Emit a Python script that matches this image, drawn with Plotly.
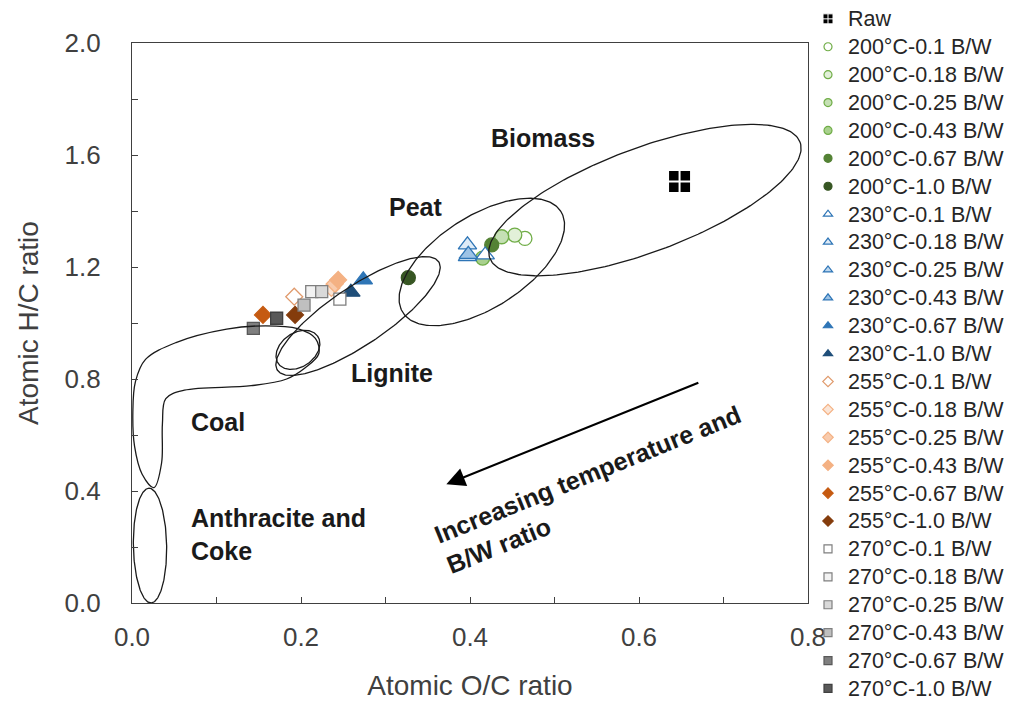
import numpy as np
import plotly.graph_objects as go

# ---------------- data ----------------
bw_levels = ["0.1", "0.18", "0.25", "0.43", "0.67", "1.0"]

raw_oc = [0.648]
raw_hc = [1.505]

oc_200 = [0.465, 0.453, 0.4375, 0.415, 0.4257, 0.327]
hc_200 = [1.302, 1.314, 1.308, 1.232, 1.279, 1.162]
oc_230 = [0.418, 0.397, 0.397, 0.398, 0.2737, 0.259]
hc_230 = [1.243, 1.279, 1.237, 1.245, 1.154, 1.110]
oc_255 = [0.192, 0.236, 0.240, 0.244, 0.155, 0.193]
hc_255 = [1.094, 1.125, 1.140, 1.154, 1.029, 1.029]
oc_270 = [0.246, 0.2127, 0.2245, 0.2036, 0.1436, 0.1712]
hc_270 = [1.085, 1.112, 1.112, 1.064, 0.981, 1.017]

# region outlines: centre (O/C, H/C), semi-axes (in O/C units on screen), angle
region_names = ["Biomass", "Peat", "Lignite", "Coal-bump", "Anthracite"]
region_cx = [0.607, 0.414, 0.2675, 0.1964, 0.0213]
region_cy = [1.439, 1.218, 1.025, 0.904, 0.205]
region_a = [0.196, 0.111, 0.115, 0.0284, 0.0679]
region_b = [0.0615, 0.0544, 0.0343, 0.0201, 0.0197]
region_ang = [20.5, 32.7, 34.0, 35.0, 91.0]

coal_oc = [0.026, 0.012, 0.003, 0.001, 0.004, 0.016, 0.052, 0.112, 0.158, 0.196,
           0.217, 0.221, 0.205, 0.183, 0.141, 0.062, 0.040, 0.036, 0.035, 0.026]
coal_hc = [0.412, 0.46, 0.56, 0.68, 0.79, 0.87, 0.93, 0.978, 0.99, 0.98,
           0.945, 0.89, 0.84, 0.80, 0.776, 0.76, 0.73, 0.64, 0.50, 0.412]

# ---------------- styling ----------------
col_200 = ["#FFFFFF", "#E2F0D9", "#C5E0B4", "#A9D18E", "#548235", "#375623"]
line_200 = ["#70AD47", "#70AD47", "#70AD47", "#70AD47", "#548235", "#375623"]
col_230 = ["#FFFFFF", "#DEEBF7", "#BDD7EE", "#9DC3E6", "#2E75B6", "#1F4E79"]
line_230 = ["#2E75B6", "#2E75B6", "#2E75B6", "#2E75B6", "#2E75B6", "#1F4E79"]
col_255 = ["#FFFFFF", "#FBE5D6", "#F8CBAD", "#F4B183", "#C55A11", "#843C0C"]
line_255 = ["#E09A6C", "#F4B183", "#F4B183", "#F4B183", "#C55A11", "#843C0C"]
col_270 = ["#FFFFFF", "#F2F2F2", "#D9D9D9", "#BFBFBF", "#7F7F7F", "#595959"]
line_270 = ["#7F7F7F", "#7F7F7F", "#7F7F7F", "#7F7F7F", "#595959", "#404040"]

series = [
    ("200", oc_200, hc_200, "circle", 14, col_200, line_200),
    ("230", oc_230, hc_230, "triangle-up", 16, col_230, line_230),
    ("255", oc_255, hc_255, "diamond", 13, col_255, line_255),
    ("270", oc_270, hc_270, "square", 12, col_270, line_270),
]

FONT = "Arial, Liberation Sans, sans-serif"
X0, X1, Y0, Y1 = 0.0, 0.8, 0.0, 2.0
L, R, T, B = 132, 212, 43, 101
W, H = 1020, 704
PW, PH = W - L - R, H - T - B
ASPECT = (PW / (X1 - X0)) / (PH / (Y1 - Y0))

fig = go.Figure()

# data markers (not in legend)
fig.add_trace(go.Scatter(x=raw_oc, y=raw_hc, mode="markers", showlegend=False,
                         marker=dict(symbol="square-cross", size=23, color="#000000",
                                     line=dict(color="#FFFFFF", width=2))))
for temp, xs, ys, sym, size, cols, lcols in series:
    for i, bw in enumerate(bw_levels):
        fig.add_trace(go.Scatter(x=[xs[i]], y=[ys[i]], mode="markers", showlegend=False,
                                 marker=dict(symbol=sym, size=size, color=cols[i],
                                             line=dict(color=lcols[i], width=1.3))))

# region outlines
def ellipse(cx, cy, a, b, ang):
    t = np.linspace(0, 2 * np.pi, 240)
    th = np.radians(ang)
    ux = a * np.cos(t) * np.cos(th) - b * np.sin(t) * np.sin(th)
    uy = a * np.cos(t) * np.sin(th) + b * np.sin(t) * np.cos(th)
    return cx + ux, cy + uy * ASPECT

for i in range(len(region_names)):
    ex, ey = ellipse(region_cx[i], region_cy[i], region_a[i], region_b[i], region_ang[i])
    fig.add_trace(go.Scatter(x=ex, y=ey, mode="lines", showlegend=False, hoverinfo="skip",
                             line=dict(color="#1a1a1a", width=1.3)))
fig.add_trace(go.Scatter(x=coal_oc, y=coal_hc, mode="lines", showlegend=False, hoverinfo="skip",
                         line=dict(color="#1a1a1a", width=1.3, shape="spline", smoothing=1.0)))

# legend-only entries (small symbols)
def lname(s):
    return f'<span style="font-size:21.5px">{s}</span>'

fig.add_trace(go.Scatter(x=[None], y=[None], mode="markers", name=lname("Raw"), legendgroup="raw",
                         marker=dict(symbol="square-cross", size=10, color="#000000",
                                     line=dict(color="#FFFFFF", width=1))))
for temp, xs, ys, sym, size, cols, lcols in series:
    for i, bw in enumerate(bw_levels):
        fig.add_trace(go.Scatter(x=[None], y=[None], mode="markers",
                                 name=lname(f"{temp}°C-{bw} B/W"), legendgroup=f"{temp}-{bw}",
                                 marker=dict(symbol=sym, size=8, color=cols[i],
                                             line=dict(color=lcols[i], width=1.2))))

ann_font = dict(family=FONT, size=25, color="#1a1a1a")
labels = [("<b>Biomass</b>", 0.486, 1.661),
          ("<b>Peat</b>", 0.336, 1.414),
          ("<b>Lignite</b>", 0.308, 0.821),
          ("<b>Coal</b>", 0.102, 0.646)]
for txt, x, y in labels:
    fig.add_annotation(x=x, y=y, text=txt, showarrow=False, font=ann_font, xanchor="center")
fig.add_annotation(x=0.068, y=0.243, text="<b>Anthracite and<br>Coke</b>", showarrow=False,
                   font=ann_font, xanchor="left", align="left")
fig.add_annotation(x=0.372, y=0.424, ax=0.672, ay=0.789, xref="x", yref="y", axref="x", ayref="y",
                   text="", showarrow=True, arrowhead=2, arrowsize=1.7, arrowwidth=2.2,
                   arrowcolor="#000000")
fig.add_annotation(x=0.547, y=0.404, text="<b>Increasing temperature and<br>B/W ratio</b>",
                   showarrow=False, font=ann_font, textangle=-22, align="left")

axis_font = dict(family=FONT, size=26, color="#404040")
title_font = dict(family=FONT, size=28, color="#404040")
fig.update_xaxes(range=[X0, X1], dtick=0.2, tickformat=".1f", ticks="inside", ticklen=6,
                 tickcolor="#404040", showline=True, linecolor="#404040", linewidth=1.3,
                 mirror=True, showgrid=False, zeroline=False, tickfont=axis_font,
                 ticklabelstandoff=11, automargin=False,
                 minor=dict(dtick=0.1, ticks="inside", ticklen=6, tickcolor="#404040"),
                 title=dict(text="Atomic O/C ratio", font=title_font, standoff=24))
fig.update_yaxes(range=[Y0, Y1], dtick=0.4, tickformat=".1f", ticks="inside", ticklen=6,
                 tickcolor="#404040", showline=True, linecolor="#404040", linewidth=1.3,
                 mirror=True, showgrid=False, zeroline=False, tickfont=axis_font,
                 ticklabelstandoff=25, automargin=False,
                 minor=dict(dtick=0.2, ticks="inside", ticklen=6, tickcolor="#404040"),
                 title=dict(text="Atomic H/C ratio", font=title_font, standoff=17))

fig.update_layout(
    width=W, height=H, margin=dict(l=L, r=R, t=T, b=B, autoexpand=False),
    plot_bgcolor="#FFFFFF", paper_bgcolor="#FFFFFF",
    legend=dict(xref="container", yref="container", x=808 / W, y=1.0,
                xanchor="left", yanchor="top", maxheight=800,
                font=dict(family=FONT, size=19, color="#262626"),
                tracegroupgap=0.2, itemwidth=30, bgcolor="rgba(0,0,0,0)"),
)

fig.write_html("out.html", config={"displayModeBar": False},
               post_script="document.body.style.margin='0';")
